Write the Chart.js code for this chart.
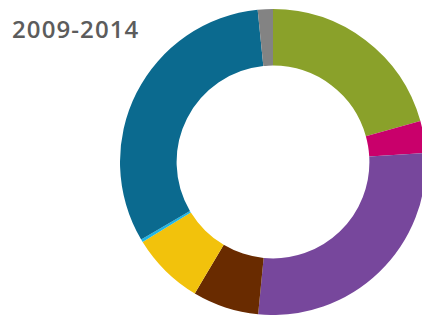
<!DOCTYPE html>
<html>
<head>
<meta charset="utf-8">
<script src="https://cdn.jsdelivr.net/npm/chart.js@4"></script>
<style>
  html, body { margin: 0; padding: 0; width: 422px; height: 315px; overflow: hidden; background: #fff; }
  #title { position: absolute; left: 12px; top: 12px; font-family: "Open Sans", sans-serif; font-weight: 600; font-size: 24px; letter-spacing: 1.1px; color: #5c5c5c; }
  #wrap { position: absolute; left: 120px; top: 9px; width: 306px; height: 306px; }
</style>
</head>
<body>
<div id="title">2009-2014</div>
<div id="wrap"><canvas id="donut"></canvas></div>
<script>
// slices clockwise from 12 o'clock, share in %
const labels = ['Green', 'Magenta', 'Purple', 'Brown', 'Yellow', 'Light blue', 'Blue', 'Grey'];
const values = [20.7, 3.4, 27.5, 7.0, 7.7, 0.3, 31.9, 1.6];
const colors = ['#8aa12a', '#c9006b', '#77479c', '#692b00', '#f2c20c', '#1fb6e6', '#0b6a8f', '#838383'];

new Chart('donut', {
  type: 'doughnut',
  data: {
    labels: labels,
    datasets: [{
      data: values,
      backgroundColor: colors,
      borderWidth: 0
    }]
  },
  options: {
    responsive: true,
    maintainAspectRatio: false,
    animation: false,
    cutout: '63%',
    layout: { padding: 0 },
    plugins: {
      legend: { display: false },
      tooltip: { enabled: false }
    }
  }
});
</script>
</body>
</html>
